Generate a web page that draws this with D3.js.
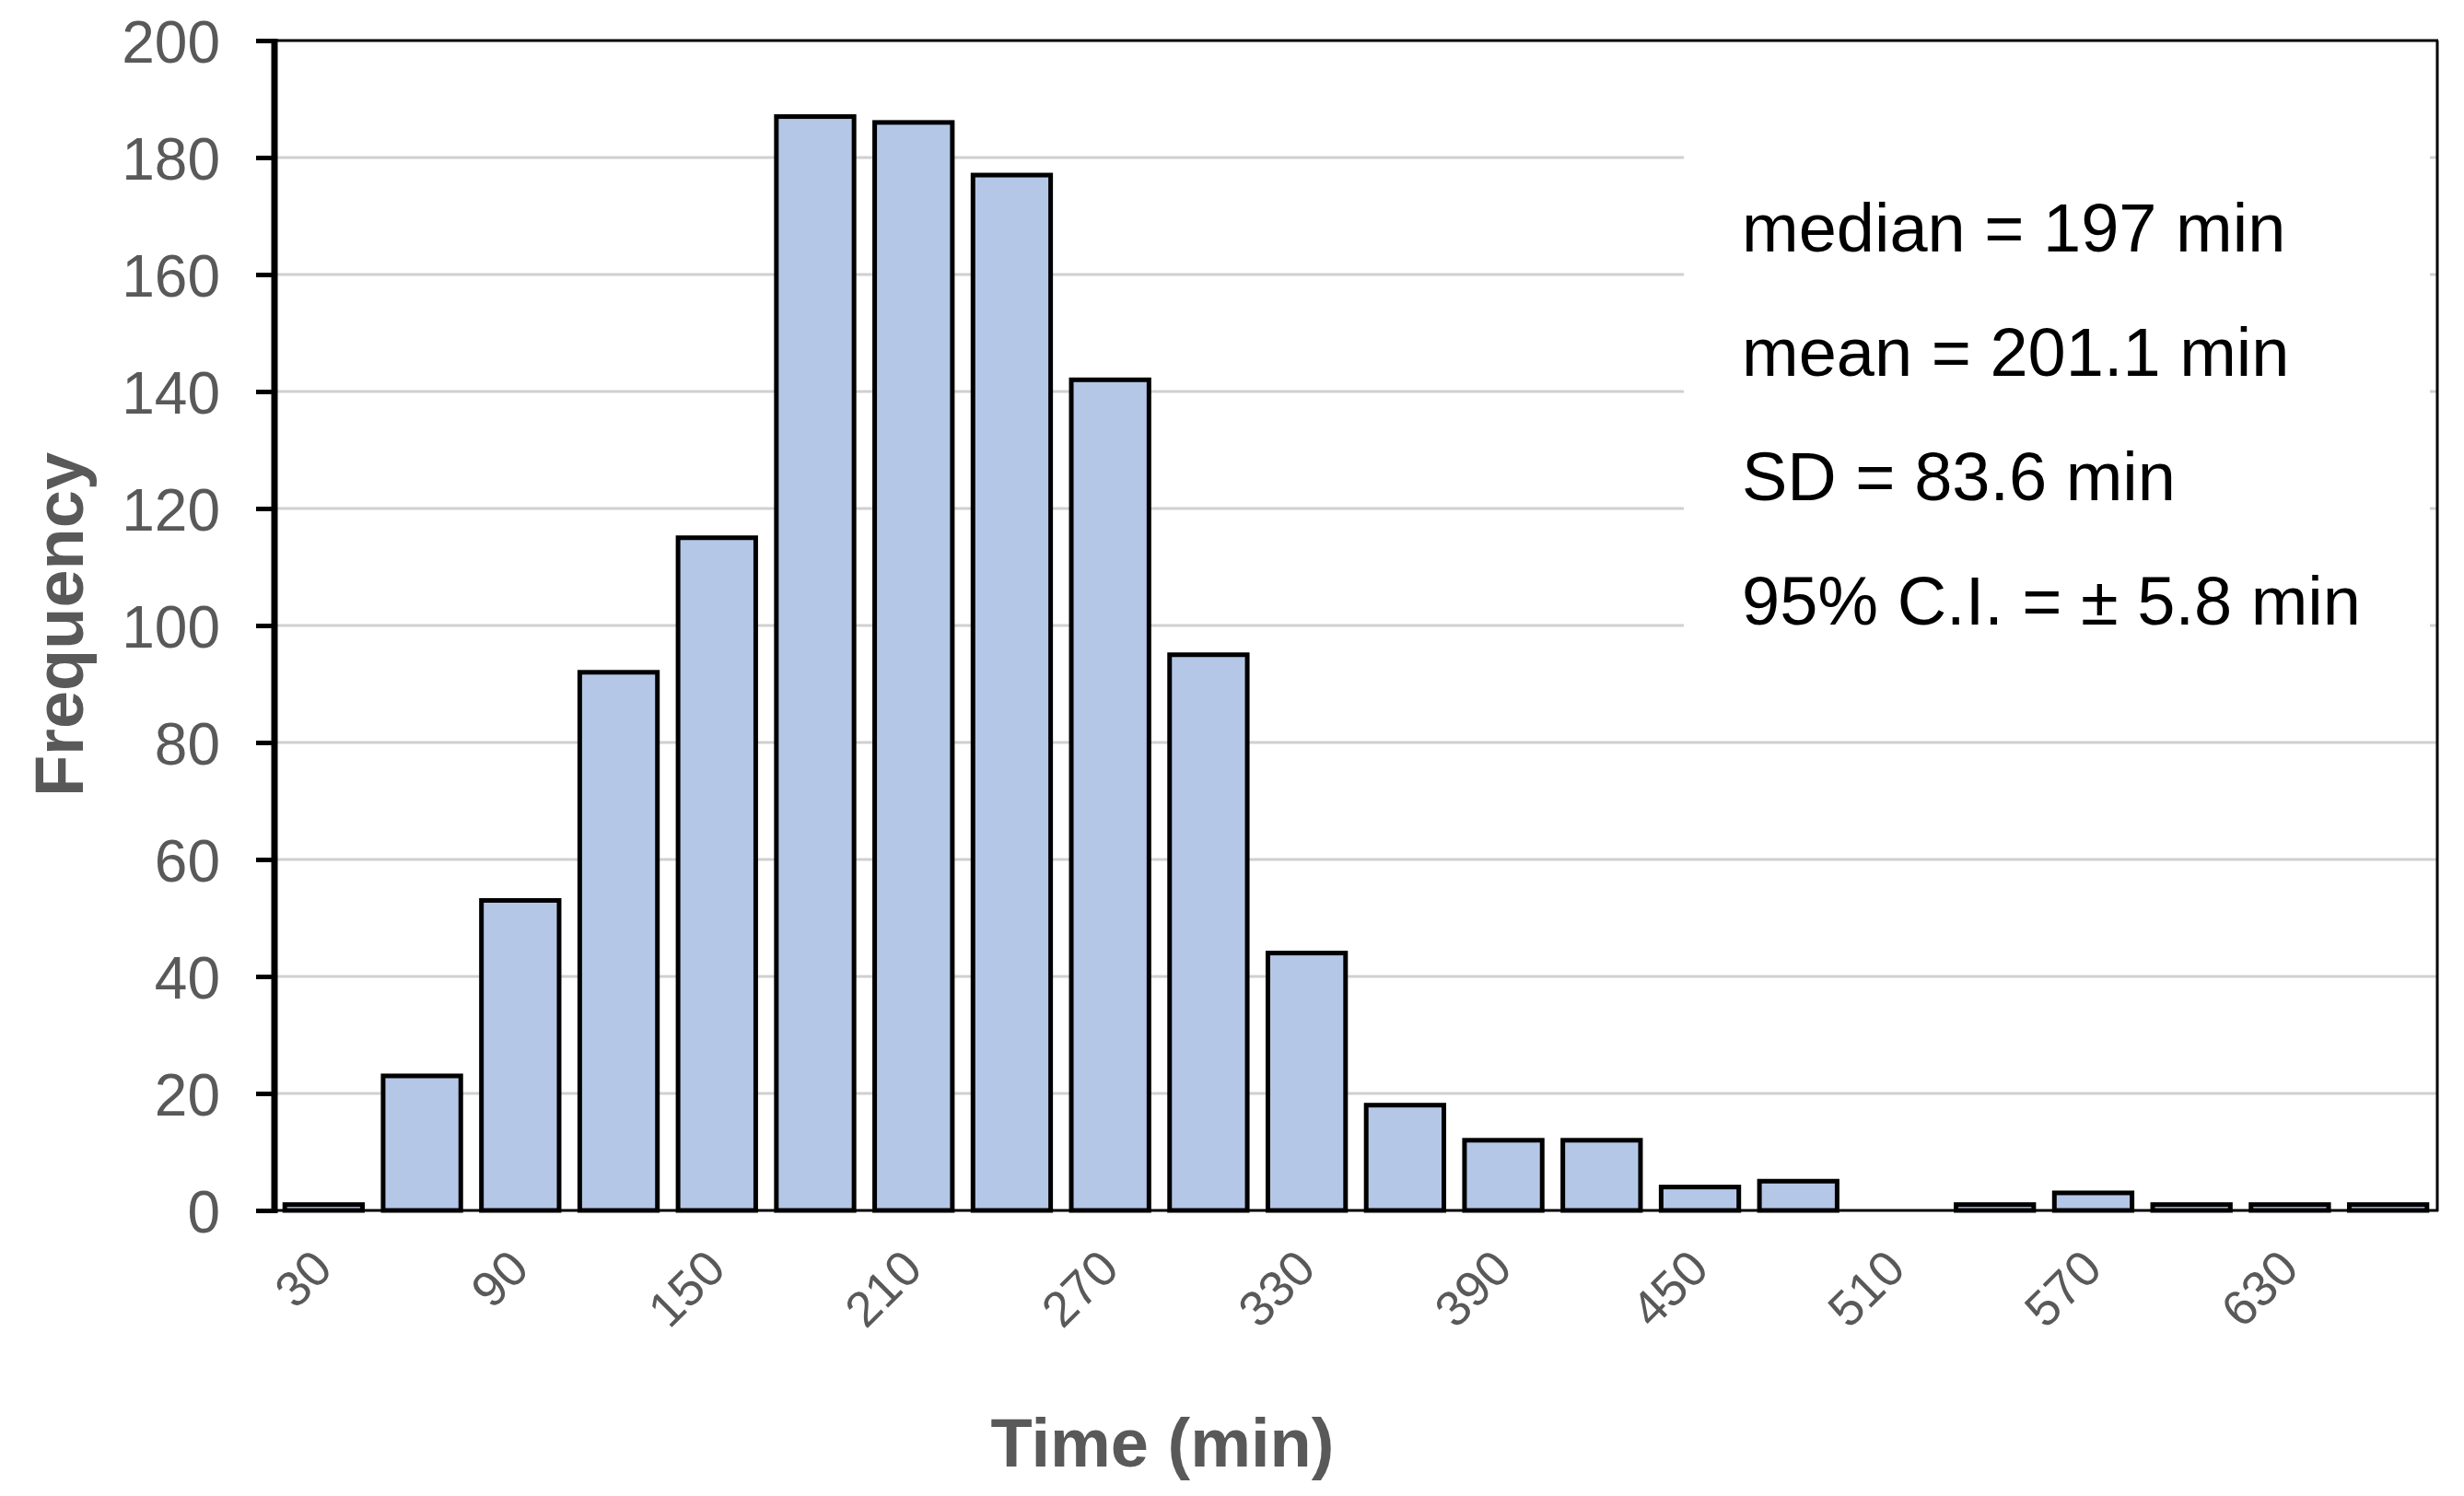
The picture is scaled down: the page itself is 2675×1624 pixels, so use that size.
<!DOCTYPE html>
<html>
<head>
<meta charset="utf-8">
<script src="https://cdn.jsdelivr.net/npm/d3@7"></script>
<style>
  html, body { margin: 0; padding: 0; background: #ffffff; }
  svg { display: block; }
  text { font-family: "Liberation Sans", Arial, Helvetica, sans-serif; }
</style>
</head>
<body>
<svg id="chart" width="2675" height="1624"></svg>
<script>
// ---- data ----
const categories = ["30","60","90","120","150","180","210","240","270","300","330","360","390","420","450","480","510","540","570","600","630","660"];
const frequencies = [1, 23, 53, 92, 115, 187, 186, 177, 142, 95, 44, 18, 12, 12, 4, 5, 0, 1, 3, 1, 1, 1];
const yTicks = [0, 20, 40, 60, 80, 100, 120, 140, 160, 180, 200];
const xTickLabels = ["30","90","150","210","270","330","390","450","510","570","630"];
const statsLines = ["median = 197 min", "mean = 201.1 min", "SD = 83.6 min", "95% C.I. = \u00b1 5.8 min"];
const xTitle = "Time (min)";
const yTitle = "Frequency";

(function () {
// ---- layout ----
const svg = d3.select("#chart");
const plotLeft = 298, plotRight = 2646, plotTop = 44, plotBottom = 1314;
const tickColor = "#595959";

const x = d3.scaleBand()
  .domain(categories)
  .range([plotLeft, plotRight])
  .paddingInner(0.21)
  .paddingOuter(0.105);

const y = d3.scaleLinear().domain([0, 200]).range([plotBottom, plotTop]);

// gridlines
svg.append("g").selectAll("line")
  .data(yTicks.filter(t => t > 0 && t < 200))
  .join("line")
  .attr("x1", plotLeft).attr("x2", plotRight)
  .attr("y1", d => y(d)).attr("y2", d => y(d))
  .attr("stroke", "#d0d0d0").attr("stroke-width", 3);

// stats text box (white background hides gridlines)
svg.append("rect")
  .attr("x", 1828).attr("y", 135)
  .attr("width", 2638 - 1828).attr("height", 760 - 135)
  .attr("fill", "#ffffff");

svg.append("g").selectAll("text")
  .data(statsLines)
  .join("text")
  .attr("x", 1891)
  .attr("y", (d, i) => 273 + i * 135)
  .attr("font-size", 74)
  .attr("fill", "#000000")
  .text(d => d);

// bars
svg.append("g").selectAll("rect")
  .data(categories.map((c, i) => ({ c, v: frequencies[i] })).filter(d => d.v > 0))
  .join("rect")
  .attr("x", d => x(d.c))
  .attr("width", x.bandwidth())
  .attr("y", d => y(d.v))
  .attr("height", d => y(0) - y(d.v))
  .attr("fill", "#b4c7e7")
  .attr("stroke", "#000000")
  .attr("stroke-width", 5);

// plot border: top, right, bottom
svg.append("line").attr("x1", 278).attr("x2", plotRight + 1).attr("y1", plotTop).attr("y2", plotTop)
  .attr("stroke", "#000").attr("stroke-width", 3);
svg.append("line").attr("x1", plotRight).attr("x2", plotRight).attr("y1", plotTop).attr("y2", plotBottom + 1)
  .attr("stroke", "#000").attr("stroke-width", 3);
svg.append("line").attr("x1", plotLeft).attr("x2", plotRight + 1).attr("y1", plotBottom).attr("y2", plotBottom)
  .attr("stroke", "#000").attr("stroke-width", 3);

// y axis
const yAxis = svg.append("g")
  .attr("transform", `translate(${plotLeft},0)`)
  .call(d3.axisLeft(y).tickValues(yTicks).tickSize(20).tickSizeOuter(0).tickPadding(39));
yAxis.select(".domain").attr("stroke", "#000").attr("stroke-width", 7)
  .attr("d", `M0,${plotTop - 2}V${plotBottom + 3}`);
yAxis.selectAll(".tick line").attr("stroke", "#000").attr("stroke-width", 5);
yAxis.selectAll(".tick text")
  .attr("font-size", 64)
  .attr("font-family", "Liberation Sans, Arial, sans-serif")
  .attr("fill", tickColor)
  .attr("dy", "0.36em");

// x axis labels (every other category)
const xAxis = svg.append("g")
  .attr("transform", `translate(0,${plotBottom})`)
  .call(d3.axisBottom(x).tickValues(xTickLabels).tickSize(0).tickSizeOuter(0));
xAxis.select(".domain").remove();
xAxis.selectAll(".tick text")
  .attr("font-size", 54)
  .attr("font-family", "Liberation Sans, Arial, sans-serif")
  .attr("fill", tickColor)
  .attr("text-anchor", "end")
  .attr("x", 0).attr("y", 0).attr("dy", 0)
  .attr("transform", "translate(12,66) rotate(-45)");

// axis titles
svg.append("text")
  .attr("x", 1262).attr("y", 1592)
  .attr("text-anchor", "middle")
  .attr("font-size", 74).attr("font-weight", "bold")
  .attr("fill", tickColor)
  .text(xTitle);

svg.append("text")
  .attr("transform", "translate(90,678) rotate(-90)")
  .attr("text-anchor", "middle")
  .attr("font-size", 74).attr("font-weight", "bold")
  .attr("fill", tickColor)
  .text(yTitle);
})();
</script>
</body>
</html>
